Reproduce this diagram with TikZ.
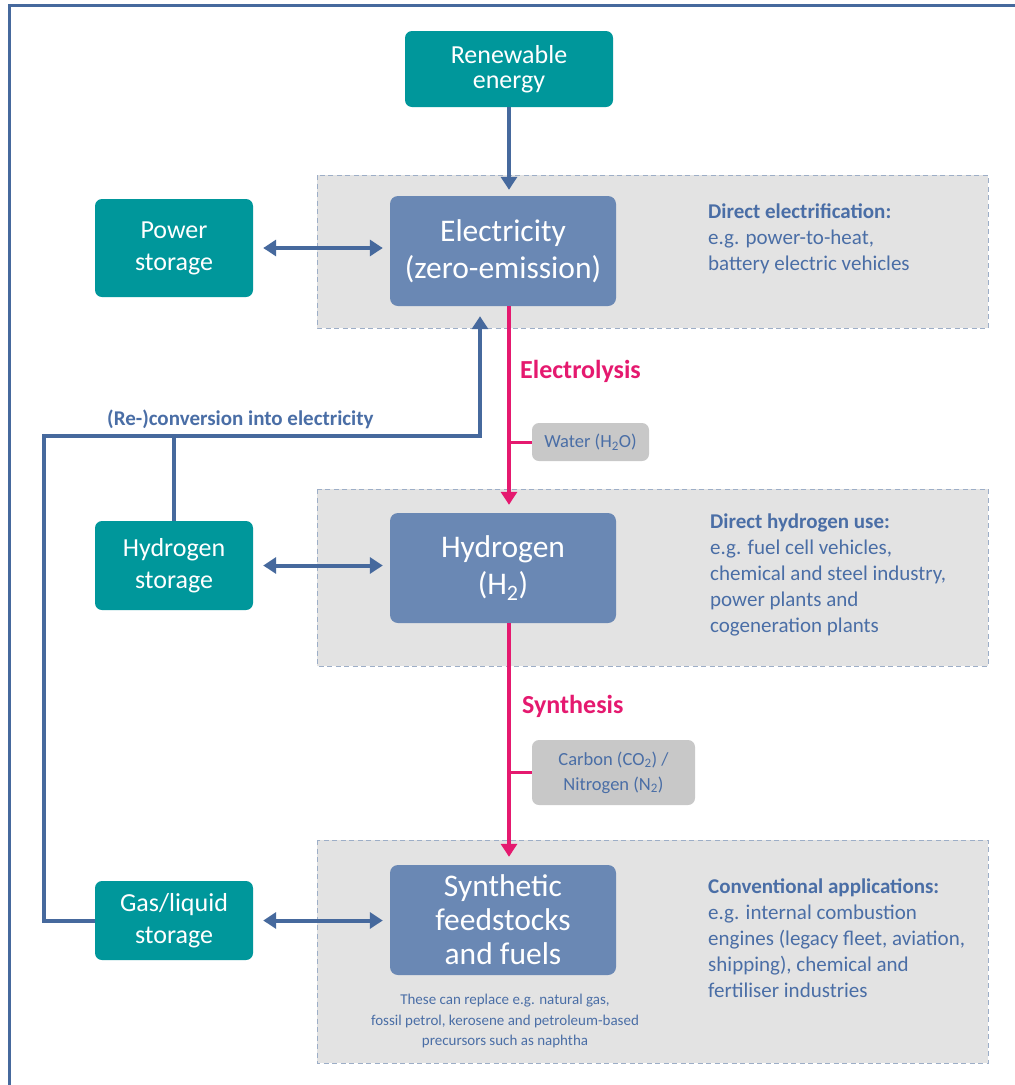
\documentclass[tikz,border=0pt]{standalone}
\usepackage{fontspec}
\setmainfont{Carlito}
\usetikzlibrary{arrows.meta}
\definecolor{tealc}{HTML}{00979B}
\definecolor{boxblue}{HTML}{6A88B4}
\definecolor{lineblue}{HTML}{46699D}
\definecolor{textblue}{HTML}{4A6EA6}
\definecolor{pinkc}{HTML}{E5196F}
\definecolor{regionfill}{HTML}{E3E3E3}
\definecolor{regionline}{HTML}{9DAEC7}
\definecolor{grayboxc}{HTML}{C8C8C8}
\newcommand{\fs}[2]{\fontsize{#1}{#2}\selectfont}
\begin{document}
\begin{tikzpicture}[x=1pt,y=-1pt,
  tealbox/.style={fill=tealc, rounded corners=7pt, text=white, align=center, inner sep=0pt, minimum width=158pt, font=\fs{26}{32}},
  mainbox/.style={fill=boxblue, rounded corners=8pt, text=white, align=center, inner sep=0pt, minimum width=226pt, minimum height=110pt, font=\fs{31.5}{37}},
  region/.style={fill=regionfill, draw=regionline, line width=1pt, dash pattern=on 5pt off 3.5pt},
  graybox/.style={fill=grayboxc, rounded corners=7pt, text=textblue, align=center, inner sep=0pt, font=\fs{18.5}{25}},
  conn/.style={draw=lineblue, line width=4pt},
  tipb/.style={-{Triangle[length=13pt,width=16pt]}},
  dbl/.style={conn, {Triangle[length=13pt,width=16pt]}-{Triangle[length=13pt,width=16pt]}, shorten <=10pt, shorten >=7pt},
  pinkarrow/.style={draw=pinkc, line width=4.5pt, -{Triangle[length=13pt,width=16pt]}},
  tick/.style={draw=pinkc, line width=3pt},
  sidetext/.style={text=textblue, align=left, anchor=north west, inner sep=0pt, font=\fs{21}{26}},
  proc/.style={text=pinkc, anchor=west, inner sep=0pt, font=\fs{26}{30}\bfseries}
]
\useasboundingbox (0,0) rectangle (1015,1085);
\fill[white] (0,0) rectangle (1015,1085);
% outer frame (cropped at right and bottom)
\draw[lineblue, line width=3pt] (9,1090) -- (9,5) -- (1020,5);

% regions
\path[region] (317,175) rectangle (988,328);
\path[region] (317,489) rectangle (988,666);
\path[region] (317,840) rectangle (988,1063);

% nodes
\node[tealbox, minimum width=208pt, minimum height=76pt, font=\fs{26}{25}] (re) at (509,69) {Renewable\\energy};
\node[mainbox] (el) at (503,251) {Electricity\\(zero-emission)};
\node[mainbox] (hy) at (503,568) {Hydrogen\\(H\textsubscript{2})};
\node[mainbox, font=\fs{31.5}{34}] (sy) at (503,920) {Synthetic\\feedstocks\\and fuels};

\node[tealbox, minimum height=98pt] (ps) at (174,248) {Power\\storage};
\node[tealbox, minimum height=89pt] (hs) at (174,565.5) {Hydrogen\\storage};
\node[tealbox, minimum height=79pt] (gl) at (174,920.5) {Gas/liquid\\storage};

\node[graybox, minimum width=117pt, minimum height=38pt] (wa) at (590.5,442) {Water (H\textsubscript{2}O)};
\node[graybox, minimum width=163pt, minimum height=65pt] (ca) at (613.5,772.5) {Carbon (CO\textsubscript{2}) /\\Nitrogen (N\textsubscript{2})};

\node[proc] (elx) at (520,371) {Electrolysis};
\node[proc] (syx) at (522,706) {Synthesis};

\node[sidetext] (t1) at (708,204) {\textbf{Direct electrification:}\\e.g. power-to-heat,\\battery electric vehicles};
\node[sidetext] (t2) at (710,514) {\textbf{Direct hydrogen use:}\\e.g. fuel cell vehicles,\\chemical and steel industry,\\power plants and\\cogeneration plants};
\node[sidetext] (t3) at (708,879) {\textbf{Conventional applications:}\\e.g. internal combustion\\engines (legacy fleet, aviation,\\shipping), chemical and\\fertiliser industries};

\node[text=textblue, align=center, inner sep=0pt, font=\fs{15}{20.5}] (note) at (505,1021) {These can replace e.g. natural gas,\\fossil petrol, kerosene and petroleum-based\\precursors such as naphtha};

\node[text=textblue, anchor=west, inner sep=0pt, font=\fs{21}{24}\bfseries] (rc) at (107,419) {(Re-)conversion into electricity};

% connectors
\coordinate (px) at (509,0);
\coordinate (j1) at (44,436);
\coordinate (j2) at (480,436);

\draw[conn, tipb, shorten >=6pt] (re.south -| px) -- (el.north -| px);
\draw[dbl] (ps.east) -- (el.west |- ps.east);
\draw[dbl] (hs.east) -- (hy.west |- hs.east);
\draw[dbl] (gl.east) -- (sy.west |- gl.east);

\draw[tick] (wa.west) -- (wa.west -| px);
\draw[tick] (ca.west) -- (ca.west -| px);
\draw[pinkarrow, shorten >=8pt] (el.south -| px) -- (hy.north -| px);
\draw[pinkarrow, shorten >=8pt] (hy.south -| px) -- (sy.north -| px);

\draw[conn, line join=miter] (hs.north) -- (hs.north |- j1);
\draw[conn, tipb, line join=miter, shorten >=10pt] (gl.west) -| (j1) -- (j2) -- (el.south -| j2);
\end{tikzpicture}
\end{document}
